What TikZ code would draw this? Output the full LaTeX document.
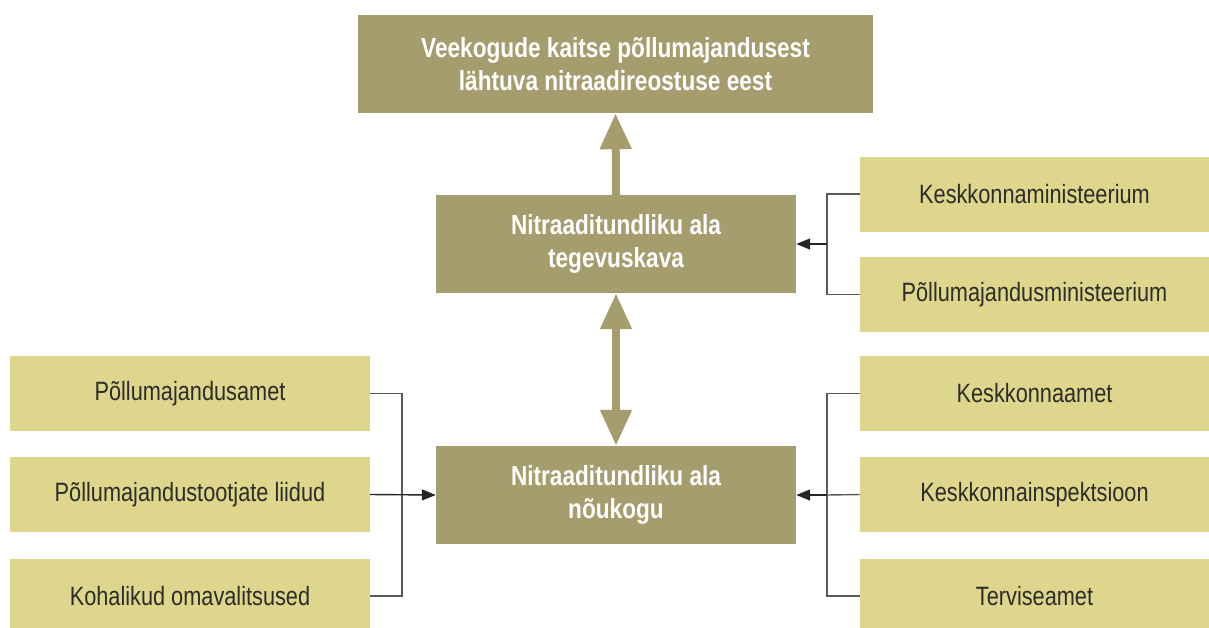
\documentclass[tikz,border=0pt]{standalone}
\usepackage{fontspec}
\setmainfont[FakeStretch=0.82]{Liberation Sans}
\usetikzlibrary{arrows.meta}
\definecolor{darkol}{RGB}{166,157,110}
\definecolor{lightol}{RGB}{222,214,140}
\definecolor{txtgray}{RGB}{45,45,40}
\definecolor{linegray}{RGB}{90,90,90}
\begin{document}
\begin{tikzpicture}[x=1pt,y=-1pt,
  mainbox/.style={fill=darkol,draw=none,inner sep=0pt,text=white,align=center,
    font=\fontsize{27.6}{33}\selectfont\bfseries},
  sidebox/.style={fill=lightol,draw=none,inner sep=0pt,text=txtgray,align=center,
    minimum width=360pt,minimum height=75pt,font=\fontsize{26.5}{33}\selectfont},
  conn/.style={draw=linegray,line width=1.4pt},
  arr/.style={draw=black!85,line width=1.4pt,-{Triangle[length=14pt,width=11pt]}},
  bigarr/.style={draw=darkol,line width=8pt,-{Triangle[length=36pt,width=30pt]}},
  bigdarr/.style={draw=darkol,line width=8pt,{Triangle[length=36pt,width=30pt]}-{Triangle[length=36pt,width=30pt]}}]
\useasboundingbox (0,0) rectangle (1209,627);
\clip (0,0) rectangle (1209,627);
% main boxes
\node[mainbox,minimum width=515pt,minimum height=98pt] (top) at (615.5,64)
  {Veekogude kaitse põllumajandusest\\lähtuva nitraadireostuse eest};
\node[mainbox,minimum width=360pt,minimum height=98pt] (plan) at (616,244)
  {Nitraaditundliku ala\\tegevuskava};
\node[mainbox,minimum width=360pt,minimum height=98pt] (council) at (616,495)
  {Nitraaditundliku ala\\nõukogu};
% right boxes
\node[sidebox,minimum width=349pt] (r1) at (1034.5,194) {Keskkonnaministeerium};
\node[sidebox,minimum width=349pt] (r2) at (1034.5,294.5) {Põllumajandusministeerium};
\node[sidebox,minimum width=349pt] (r3) at (1034.5,393.5) {Keskkonnaamet};
\node[sidebox,minimum width=349pt] (r4) at (1034.5,494.5) {Keskkonnainspektsioon};
\node[sidebox,minimum width=349pt] (r5) at (1034.5,596) {Terviseamet};
% left boxes
\node[sidebox] (l1) at (190,393.5) {Põllumajandusamet};
\node[sidebox] (l2) at (190,494.5) {Põllumajandustootjate liidud};
\node[sidebox] (l3) at (190,596) {Kohalikud omavalitsused};
% big arrows
\draw[bigarr] (plan.north) -- (top.south);
\draw[bigdarr] (plan.south) -- (council.north);
% right brackets
\coordinate (rb1) at (827,244);
\draw[conn] (r1.west) -| (rb1) |- (r2.west);
\draw[arr] (rb1) -- (plan.east);
\coordinate (rb2) at (827,495);
\draw[conn] (r3.west) -| (rb2) |- (r5.west);
\draw[conn] (r4.west) -- (rb2);
\draw[arr] (rb2) -- (council.east);
% left bracket
\coordinate (lb) at (402,495);
\draw[conn] (l1.east) -| (lb) |- (l3.east);
\draw[arr] (l2.east) -- (council.west);
\end{tikzpicture}
\end{document}
